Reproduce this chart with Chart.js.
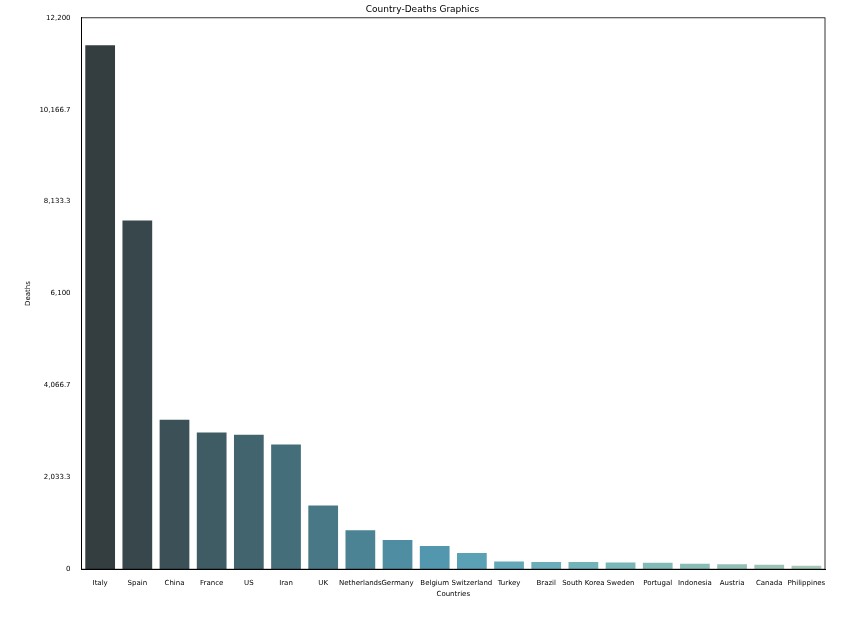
<!DOCTYPE html><html><head><script src="https://cdn.jsdelivr.net/npm/chart.js@4"></script>
<style>body{margin:0;background:#fff}#w{width:861px;height:632px}</style></head><body><div id="w"><canvas id="c"></canvas></div>
<script>
const countries=["Italy","Spain","China","France","US","Iran","UK","Netherlands","Germany","Belgium","Switzerland","Turkey","Brazil","South Korea","Sweden","Portugal","Indonesia","Austria","Canada","Philippines"];
const deaths=[11591,7716,3309,3024,2977,2757,1408,864,645,513,359,168,159,158,146,140,122,108,101,78];
const colors=["#343d40","#38474c","#3b5157","#3f5b63","#42646f","#456e7b","#487886","#4b8294","#4f8da2","#5297ae","#5aa1b6","#64a7b8","#6badb9","#72b2b9","#7ab6b8","#82bab8","#8abcb6","#92bfb5","#9bc3b5","#a4c7b6"];
const frame={id:'frame',afterDraw(c){const a=c.chartArea,x=c.ctx;x.save();x.strokeStyle='#000';x.lineWidth=0.8;x.strokeRect(a.left,a.top,a.right-a.left,a.bottom-a.top);x.restore();}};
new Chart(document.getElementById('c'),{type:'bar',data:{labels:countries,datasets:[{data:deaths,backgroundColor:colors,categoryPercentage:0.8,barPercentage:1}]},
options:{responsive:true,maintainAspectRatio:false,animation:false,layout:{padding:{left:20,right:36,top:4,bottom:34}},
plugins:{legend:{display:false},tooltip:{enabled:false},title:{display:true,text:'Country-Deaths Graphics',color:'#000',font:{family:'DejaVu Sans',size:9,weight:'normal'},padding:{top:0,bottom:3}}},
scales:{x:{grid:{display:false,drawTicks:true},border:{color:'#000'},ticks:{color:'#000',font:{family:'DejaVu Sans',size:7},maxRotation:0,autoSkip:false,padding:2},title:{display:true,text:'Countries',color:'#000',font:{family:'DejaVu Sans',size:7},padding:0}},
y:{min:0,max:12200,grid:{display:false},border:{color:'#000'},ticks:{stepSize:2000,color:'#000',font:{family:'DejaVu Sans',size:7}},title:{display:true,text:'Deaths',color:'#000',font:{family:'DejaVu Sans',size:7}}}}},plugins:[frame]});
</script></body></html>
